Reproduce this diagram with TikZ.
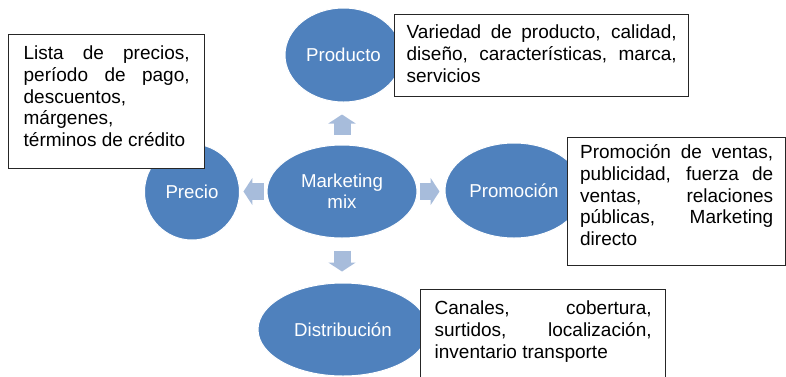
\documentclass[tikz,border=0pt]{standalone}
\usepackage{fontspec}
\setmainfont{Liberation Sans}
\usetikzlibrary{shapes.geometric, arrows.meta}
\definecolor{mixblue}{RGB}{79, 129, 189}
\definecolor{arrowblue}{RGB}{167, 188, 219}
\tolerance=10000
\hyphenpenalty=10000

\tikzset{
  circ/.style={ellipse, fill=mixblue, draw=white, line width=0.75pt, text=white, inner sep=0pt, align=center, font=\fontsize{14}{15.5}\selectfont},
  infobox/.style={draw=black!85, line width=1pt, fill=white, anchor=north west, align=justify, inner ysep=0pt, font=\fontsize{14.25}{16.3}\selectfont},
  blockarrow/.style={draw=arrowblue, line width=12.75pt, -{Triangle[width=20.25pt, length=6.75pt]}}
}

\begin{document}
\begin{tikzpicture}[x=0.75pt, y=-0.75pt]
  \useasboundingbox (0,0) rectangle (786,376);

  % The five ellipses
  \node[circ, minimum width=87.75pt, minimum height=70.5pt] (prod) at (343.5, 55) {Producto};
  \node[circ, minimum width=112.5pt, minimum height=69.75pt] (mix) at (342, 191.5) {Marketing\\mix};
  \node[circ, minimum width=71.25pt, minimum height=72pt] (precio) at (192, 192) {Precio};
  \node[circ, minimum width=103.5pt, minimum height=71.25pt] (prom) at (514, 190.5) {Promoción};
  \node[circ, minimum width=127.5pt, minimum height=69.75pt] (dist) at (343, 329.5) {Distribución};

  % Block arrows out of the centre
  \draw[blockarrow, shorten <=7.5pt, shorten >=9pt] (mix.north) -- (mix.north |- prod.south);
  \draw[blockarrow, shorten <=2.25pt, shorten >=2.6pt] (mix.west) -- (mix.west -| precio.east);
  \draw[blockarrow, shorten <=1.5pt, shorten >=3.75pt] (mix.east) -- (mix.east -| prom.west);
  \draw[blockarrow, shorten <=9pt, shorten >=8.25pt] (mix.south) -- (mix.south |- dist.north);

  % Description boxes
  \node[infobox, text width=124.5pt, inner xsep=11.25pt, text height=18.75pt, text depth=81.75pt] (preciobox) at (8, 34) {Lista de precios,\linebreak período de pago,\linebreak descuentos,\linebreak márgenes,\linebreak términos de crédito};
  \node[infobox, text width=202.5pt, inner xsep=9pt, text height=18pt, text depth=43.5pt] (prodbox) at (394, 14) {Variedad de producto, calidad,\linebreak diseño, características, marca,\linebreak servicios};
  \node[infobox, text width=144.75pt, inner xsep=9.375pt, text height=15.75pt, text depth=80.25pt] (prombox) at (567, 137) {Promoción de ventas,\linebreak publicidad, fuerza de\linebreak ventas, relaciones\linebreak públicas, Marketing\linebreak directo};
  \node[infobox, text width=162.75pt, inner xsep=10.5pt, text height=18.75pt, text depth=57pt] (distbox) at (420, 289) {Canales, cobertura,\linebreak surtidos, localización,\linebreak inventario transporte};
\end{tikzpicture}
\end{document}
